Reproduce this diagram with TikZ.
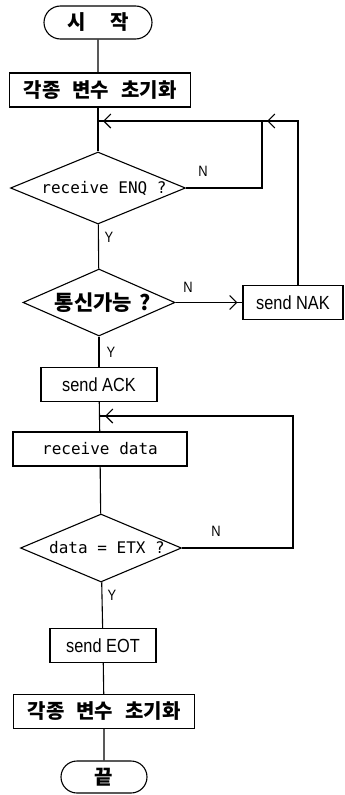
\documentclass[tikz,border=0pt]{standalone}
\usepackage{fontspec}
\setmainfont{Liberation Sans}
\newfontfamily\kr{Noto Sans CJK KR}
\newfontfamily\mono{DejaVu Sans Mono}
\usetikzlibrary{arrows.meta,shapes.geometric,shapes.misc,decorations.markings}

% narrow setting of the sans labels
\newcommand\condensed[1]{\scalebox{0.86}[1]{#1}}

\tikzset{
  box/.style={draw, rectangle, minimum height=34pt, inner sep=0pt,
    font=\fontsize{19}{22}\selectfont},
  term/.style={draw, rounded rectangle, minimum height=33pt, inner sep=0pt,
    font=\kr\bfseries\fontsize{20}{23}\selectfont},
  dec/.style={draw, diamond, aspect=2.4, inner sep=0pt},
  krtxt/.style={font=\kr\bfseries\fontsize{20}{23}\selectfont},
  krbig/.style={font=\kr\bfseries\fontsize{21}{24}\selectfont},
  montxt/.style={font=\mono\fontsize{16}{19}\selectfont},
  lbl/.style={inner sep=0pt, font=\fontsize{15}{17}\selectfont},
  midtip/.style={postaction={decorate},
    decoration={markings, mark=at position -5pt with
      {\arrow{Straight Barb[length=7pt,width=14pt]}}}},
}

\begin{document}
\begin{tikzpicture}[x=1pt, y=-1pt, line width=1.1pt]
  \useasboundingbox (0,0) rectangle (345,795);

  % main column
  \node[term, minimum width=108pt] (start) at (98,22.5) {시\hspace{24pt}작};
  \node[box, krtxt, minimum width=181pt] (init1) at (100,90)
    {각종\hspace{12pt}변수\hspace{12pt}초기화};
  \coordinate (m1) at (98,121);
  \node[dec, montxt, minimum width=175pt, minimum height=72pt] (d1) at (98,188)
    {\hspace*{12pt}receive ENQ ?};
  \node[dec, krbig, minimum width=140pt, minimum height=67pt] (d2) at (99,302.5)
    {\hspace*{8pt}통신가능\hspace{8pt}?};
  \node[box, minimum width=100pt] (nak) at (293,302.5) {\condensed{send NAK}};
  \node[box, minimum width=116pt] (ack) at (99,384.5) {\condensed{send ACK}};
  \coordinate (m2) at (100,416);
  \node[box, montxt, minimum width=174pt] (recv) at (100,449) {receive data};
  \node[dec, montxt, minimum width=161pt, minimum height=68pt] (d3) at (101,548)
    {\hspace*{12pt}data = ETX ?};
  \node[box, minimum width=106pt] (eot) at (103,645.5) {\condensed{send EOT}};
  \node[box, krtxt, minimum width=181pt] (init2) at (104,711.5)
    {각종\hspace{12pt}변수\hspace{12pt}초기화};
  \node[term, minimum width=86pt, minimum height=32pt] (stop) at (104,777) {끝};

  % loop corners
  \coordinate (c1) at (262,121);
  \coordinate (c2) at (298,121);
  \coordinate (c3) at (293,416);

  % branch labels
  \node[lbl] (n1) at (203,171) {\condensed{N}};
  \node[lbl] (y1) at (109,237) {\condensed{Y}};
  \node[lbl] (n2) at (188,287) {\condensed{N}};
  \node[lbl] (y2) at (111,352) {\condensed{Y}};
  \node[lbl] (n3) at (216,531) {\condensed{N}};
  \node[lbl] (y3) at (112,595) {\condensed{Y}};

  % connectors
  \draw (start) -- (init1.north -| start);
  \draw (init1.south -| d1) -- (d1);
  \draw[midtip] (d1.east) -| (c1) -- (m1);
  \draw[midtip] (nak.north -| c2) -- (c2) -- (c1);
  \draw (d1) -- (d2);
  \draw[midtip] (d2.east) -- (nak.west);
  \draw (d2) -- (ack);
  \draw (ack) -- (recv);
  \draw (recv) -- (d3);
  \draw[midtip] (d3.east) -| (c3) -- (m2);
  \draw (d3) -- (eot);
  \draw (eot) -- (init2);
  \draw (init2) -- (stop);
\end{tikzpicture}
\end{document}
